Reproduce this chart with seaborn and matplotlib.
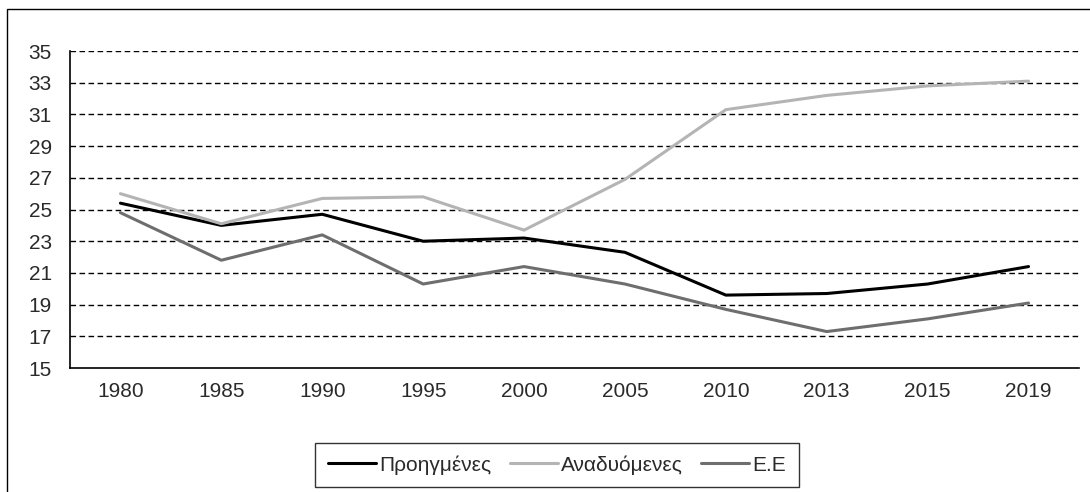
import pandas as pd
import matplotlib.pyplot as plt
import seaborn as sns
from matplotlib.patches import Rectangle
from matplotlib.ticker import FixedLocator

years = ["1980", "1985", "1990", "1995", "2000", "2005", "2010", "2013", "2015", "2019"]
advanced = [25.4, 24.0, 24.7, 23.0, 23.2, 22.3, 19.6, 19.7, 20.3, 21.4]
emerging = [26.0, 24.1, 25.7, 25.8, 23.7, 26.9, 31.3, 32.2, 32.8, 33.1]
eu = [24.8, 21.8, 23.4, 20.3, 21.4, 20.3, 18.7, 17.3, 18.1, 19.1]
series_names = ["Προηγμένες", "Αναδυόμενες", "Ε.Ε"]
y_ticks = list(range(15, 36, 2))

df = pd.DataFrame({
    "year": years * 3,
    "value": advanced + emerging + eu,
    "series": [series_names[0]] * 10 + [series_names[1]] * 10 + [series_names[2]] * 10,
})

sns.set_style("white")
plt.rcParams["font.family"] = ["Liberation Sans", "DejaVu Sans"]

fig = plt.figure(figsize=(10.9, 4.92), dpi=100)
ax = fig.add_axes([0.0642, 0.252, 0.9257, 0.6443])

sns.lineplot(data=df, x="year", y="value", hue="series", sort=False,
             palette=["#000000", "#b4b4b4", "#6e6e6e"], linewidth=2.2, ax=ax)

ax.set_xlim(-0.5, 9.5)
ax.set_ylim(15, 35)
ax.set_yticks(y_ticks)
ax.set_xlabel("")
ax.set_ylabel("")

# dashed gridlines above the axis line
for v in y_ticks[1:]:
    ax.axhline(v, color="#000000", linestyle=(0, (4, 2.5)), linewidth=1.0, zorder=0)

ax.xaxis.set_minor_locator(FixedLocator([i - 0.5 for i in range(11)]))
ax.tick_params(axis="x", which="major", length=0, pad=10, labelsize=15, colors="#2a2a2a")
ax.tick_params(axis="x", which="minor", length=8, width=1, color="#000000", direction="out")
ax.tick_params(axis="y", length=8, width=1, color="#000000", direction="out", pad=5,
               labelsize=15, labelcolor="#2a2a2a")

for side in ["top", "right"]:
    ax.spines[side].set_visible(False)
for side in ["left", "bottom"]:
    ax.spines[side].set_color("#000000")
    ax.spines[side].set_linewidth(1.2)

handles, labels = ax.get_legend_handles_labels()
ax.get_legend().remove()
leg = fig.legend(handles, labels, loc="center", bbox_to_anchor=(0.511, 0.055), ncol=3,
                 frameon=True, fancybox=False, edgecolor="#000000", fontsize=15,
                 handlelength=2.3, handletextpad=0.15, columnspacing=0.9,
                 borderpad=0.6, labelcolor="#2a2a2a")
leg.get_frame().set_linewidth(1.0)

# outer chart frame (cropped on right and bottom)
fig.patches.append(Rectangle((7 / 1090, -0.1), 1.2, 0.1 + 1 - 9 / 492,
                             transform=fig.transFigure, fill=False,
                             edgecolor="#000000", linewidth=1.0))

fig.savefig("out.png", dpi=100)
